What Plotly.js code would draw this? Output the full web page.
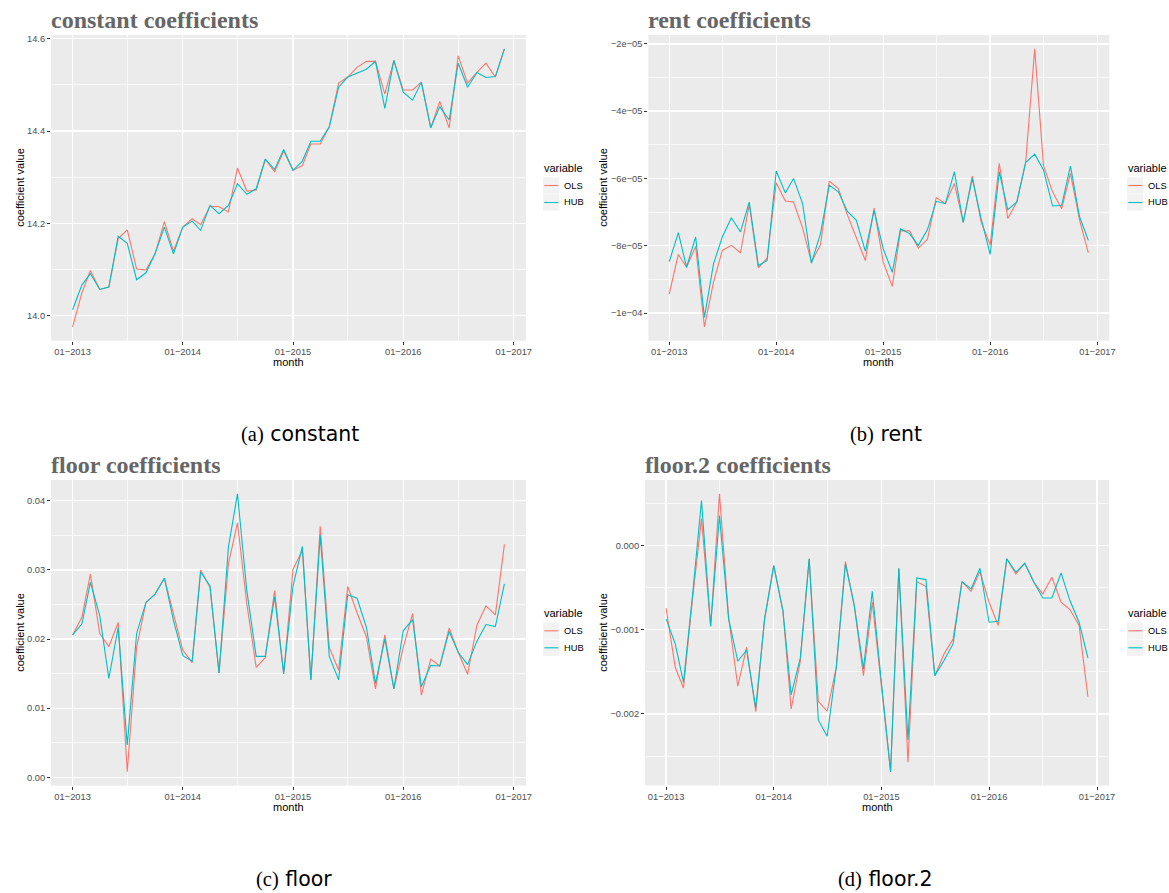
<!DOCTYPE html>
<html>
<head>
<meta charset="utf-8">
<script src="https://cdn.plot.ly/plotly-3.0.1.min.js"></script>
<style>html,body{margin:0;padding:0;background:#fff;}#chart{width:1169px;height:893px;}</style>
</head>
<body>
<div id="chart"></div>
<script>
// ---------------- DATA ----------------
const months = ["2013-01","2013-02","2013-03","2013-04","2013-05","2013-06","2013-07","2013-08","2013-09","2013-10","2013-11","2013-12",
  "2014-01","2014-02","2014-03","2014-04","2014-05","2014-06","2014-07","2014-08","2014-09","2014-10","2014-11","2014-12",
  "2015-01","2015-02","2015-03","2015-04","2015-05","2015-06","2015-07","2015-08","2015-09","2015-10","2015-11","2015-12",
  "2016-01","2016-02","2016-03","2016-04","2016-05","2016-06","2016-07","2016-08","2016-09","2016-10","2016-11","2016-12"];

const seriesNames = ["OLS", "HUB"];
const panelTitles = ["constant coefficients", "rent coefficients", "floor coefficients", "floor.2 coefficients"];
const captionLetters = ["(a)", "(b)", "(c)", "(d)"];
const captionNames = ["constant", "rent", "floor", "floor.2"];

const constOLS = [13.976,14.050,14.098,14.057,14.062,14.167,14.186,14.101,14.099,14.134,14.204,14.140,
  14.192,14.210,14.197,14.237,14.236,14.225,14.320,14.270,14.272,14.339,14.312,14.357,
  14.315,14.325,14.372,14.372,14.409,14.504,14.517,14.538,14.551,14.551,14.480,14.553,
  14.489,14.489,14.506,14.407,14.464,14.407,14.563,14.504,14.527,14.547,14.517,14.578];
const constHUB = [14.013,14.067,14.091,14.057,14.062,14.172,14.157,14.078,14.093,14.134,14.192,14.134,
  14.192,14.205,14.185,14.239,14.221,14.239,14.286,14.263,14.275,14.339,14.317,14.360,
  14.315,14.335,14.378,14.378,14.409,14.495,14.517,14.525,14.534,14.551,14.449,14.553,
  14.484,14.467,14.506,14.407,14.453,14.424,14.547,14.495,14.527,14.516,14.518,14.578];

const rentOLS = [-9.43e-5,-8.26e-5,-8.64e-5,-8.02e-5,-10.41e-5,-9.08e-5,-8.14e-5,-7.99e-5,-8.21e-5,-6.77e-5,-8.66e-5,-8.37e-5,
  -6.13e-5,-6.67e-5,-6.70e-5,-7.47e-5,-8.49e-5,-7.97e-5,-6.08e-5,-6.30e-5,-7.09e-5,-7.74e-5,-8.44e-5,-6.88e-5,
  -8.49e-5,-9.21e-5,-7.56e-5,-7.56e-5,-8.07e-5,-7.81e-5,-6.57e-5,-6.75e-5,-6.15e-5,-7.31e-5,-5.93e-5,-7.29e-5,
  -7.97e-5,-5.55e-5,-7.19e-5,-6.70e-5,-5.53e-5,-2.15e-5,-5.62e-5,-6.40e-5,-6.90e-5,-5.85e-5,-7.24e-5,-8.21e-5];
const rentHUB = [-8.47e-5,-7.61e-5,-8.64e-5,-7.74e-5,-10.13e-5,-8.54e-5,-7.74e-5,-7.17e-5,-7.59e-5,-6.70e-5,-8.59e-5,-8.44e-5,
  -5.78e-5,-6.43e-5,-6.00e-5,-6.75e-5,-8.52e-5,-7.64e-5,-6.20e-5,-6.40e-5,-6.98e-5,-7.24e-5,-8.16e-5,-6.95e-5,
  -8.09e-5,-8.79e-5,-7.50e-5,-7.64e-5,-7.99e-5,-7.52e-5,-6.68e-5,-6.75e-5,-5.80e-5,-7.31e-5,-6.00e-5,-7.19e-5,
  -8.26e-5,-5.80e-5,-6.93e-5,-6.70e-5,-5.53e-5,-5.28e-5,-5.75e-5,-6.82e-5,-6.80e-5,-5.63e-5,-7.14e-5,-7.84e-5];

const floorOLS = [0.0206,0.0232,0.0294,0.0208,0.0189,0.0224,0.0008,0.0188,0.0253,0.0265,0.0288,0.0237,
  0.0184,0.0166,0.0300,0.0275,0.0151,0.0309,0.0368,0.0251,0.0159,0.0173,0.0270,0.0150,
  0.0301,0.0328,0.0141,0.0363,0.0188,0.0155,0.0276,0.0238,0.0203,0.0128,0.0206,0.0128,
  0.0188,0.0237,0.0119,0.0171,0.0161,0.0216,0.0181,0.0149,0.0220,0.0248,0.0235,0.0337];
const floorHUB = [0.0206,0.0222,0.0282,0.0234,0.0143,0.0217,0.0047,0.0208,0.0253,0.0265,0.0288,0.0227,
  0.0176,0.0168,0.0297,0.0277,0.0151,0.0333,0.0410,0.0270,0.0175,0.0175,0.0261,0.0150,
  0.0277,0.0334,0.0141,0.0350,0.0175,0.0141,0.0264,0.0259,0.0217,0.0136,0.0200,0.0128,
  0.0212,0.0228,0.0131,0.0162,0.0161,0.0211,0.0181,0.0163,0.0197,0.0221,0.0218,0.0280];

const floor2OLS = [-0.745e-3,-1.446e-3,-1.691e-3,-0.620e-3,0.317e-3,-0.958e-3,0.614e-3,-0.851e-3,-1.671e-3,-1.208e-3,-1.972e-3,-0.871e-3,
  -0.238e-3,-0.772e-3,-1.941e-3,-1.374e-3,-0.158e-3,-1.850e-3,-1.968e-3,-1.446e-3,-0.190e-3,-0.713e-3,-1.545e-3,-0.673e-3,
  -1.670e-3,-2.685e-3,-0.269e-3,-2.574e-3,-0.428e-3,-0.487e-3,-1.545e-3,-1.287e-3,-1.109e-3,-0.428e-3,-0.543e-3,-0.309e-3,
  -0.673e-3,-0.950e-3,-0.158e-3,-0.337e-3,-0.210e-3,-0.436e-3,-0.574e-3,-0.376e-3,-0.673e-3,-0.760e-3,-0.950e-3,-1.794e-3];
const floor2HUB = [-0.871e-3,-1.168e-3,-1.624e-3,-0.580e-3,0.535e-3,-0.958e-3,0.356e-3,-0.871e-3,-1.374e-3,-1.240e-3,-1.929e-3,-0.871e-3,
  -0.238e-3,-0.772e-3,-1.774e-3,-1.335e-3,-0.158e-3,-2.071e-3,-2.265e-3,-1.446e-3,-0.218e-3,-0.713e-3,-1.465e-3,-0.543e-3,
  -1.630e-3,-2.685e-3,-0.269e-3,-2.309e-3,-0.384e-3,-0.404e-3,-1.545e-3,-1.366e-3,-1.168e-3,-0.428e-3,-0.515e-3,-0.269e-3,
  -0.911e-3,-0.899e-3,-0.158e-3,-0.317e-3,-0.210e-3,-0.436e-3,-0.622e-3,-0.622e-3,-0.325e-3,-0.653e-3,-0.911e-3,-1.335e-3];

const rentTickVals = [-1e-4, -8e-5, -6e-5, -4e-5, -2e-5];
const rentTickText = ["\u22121e\u221204", "\u22128e\u221205", "\u22126e\u221205", "\u22124e\u221205", "\u22122e\u221205"];

// ---------------- STYLE / LAYOUT ----------------
const W = 1169, H = 893;
const COLORS = ["#F8766D", "#00BFC4"];
const px = x => x / W;
const py = y => 1 - y / H;

const panels = [
  {ols: constOLS, hub: constHUB, box: [51, 526, 35, 340.7]},
  {ols: rentOLS, hub: rentHUB, box: [648.3, 1109.3, 35, 340.7]},
  {ols: floorOLS, hub: floorHUB, box: [51, 526, 480, 785.7]},
  {ols: floor2OLS, hub: floor2HUB, box: [645, 1109, 480, 785.5]}
];

function fmtDate(ms) { return new Date(ms).toISOString().replace('T', ' ').replace('Z', ''); }
const t0 = Date.parse(months[0] + '-01'), t1 = Date.parse(months[months.length - 1] + '-01');
const xRange = [fmtDate(t0 - 0.05 * (t1 - t0)), fmtDate(t1 + 0.05 * (t1 - t0))];

function yRange(a, b) {
  const all = a.concat(b);
  const lo = Math.min(...all), hi = Math.max(...all), d = hi - lo;
  return [lo - 0.05 * d, hi + 0.05 * d];
}

const tickFont = {family: "Liberation Sans, Arial, sans-serif", size: 9.3, color: "#4D4D4D"};
const data = [];
const layout = {
  width: W, height: H, margin: {l: 0, r: 0, t: 0, b: 0},
  paper_bgcolor: "#ffffff", plot_bgcolor: "#EBEBEB", showlegend: false,
  font: {family: "Liberation Sans, Arial, sans-serif"},
  annotations: [], shapes: []
};

const yAxisOpts = [
  {dtick: 0.2, tick0: 14, tickformat: ".1f", minor: {dtick: 0.1, tick0: 14}},
  {tickmode: "array", tickvals: rentTickVals, ticktext: rentTickText, minor: {tickmode: "linear", tick0: 0, dtick: 1e-5}},
  {dtick: 0.01, tick0: 0, tickformat: ".2f", minor: {dtick: 0.005, tick0: 0}},
  {dtick: 0.001, tick0: 0, tickformat: ".3f", minor: {dtick: 0.0005, tick0: 0}}
];

const capCenters = [[300, 434], [886, 434], [294, 879], [885, 879]];
const legendPos = [[543, 168], [1127, 168], [543, 613.3], [1127, 613.3]];

panels.forEach((p, i) => {
  const n = i === 0 ? "" : String(i + 1);
  const [x0, x1, y0, y1] = p.box;
  [p.ols, p.hub].forEach((vals, k) => {
    data.push({
      type: "scatter", mode: "lines", x: months, y: vals, name: seriesNames[k],
      xaxis: "x" + n, yaxis: "y" + n,
      line: {color: COLORS[k], width: 1.1}, hoverinfo: "x+y+name"
    });
  });
  layout["xaxis" + n] = {
    type: "date", domain: [px(x0), px(x1)], anchor: "y" + n, range: xRange,
    tick0: "2013-01-01", dtick: "M12", tickformat: "%m\u2212%Y",
    ticks: "outside", ticklen: 3, tickwidth: 1, tickcolor: "#333333", ticklabelstandoff: -1,
    tickfont: tickFont, showgrid: true, gridcolor: "#FFFFFF", gridwidth: 1.35,
    zeroline: false, showline: false,
    minor: {dtick: "M6", tick0: "2013-01-01", showgrid: true, gridcolor: "#FFFFFF", gridwidth: 0.7, ticks: ""}
  };
  const yo = yAxisOpts[i];
  const ya = Object.assign({
    domain: [py(y1), py(y0)], anchor: "x" + n, range: yRange(p.ols, p.hub),
    ticks: "outside", ticklen: 3, tickwidth: 1, tickcolor: "#333333",
    tickfont: tickFont, showgrid: true, gridcolor: "#FFFFFF", gridwidth: 1.35,
    zeroline: false, showline: false
  }, yo);
  ya.minor = Object.assign({showgrid: true, gridcolor: "#FFFFFF", gridwidth: 0.7, ticks: ""}, yo.minor);
  layout["yaxis" + n] = ya;

  // panel title
  layout.annotations.push({
    text: panelTitles[i], xref: "paper", yref: "paper", x: px(x0 - 2), y: py(y0 - 15),
    xanchor: "left", yanchor: "middle", showarrow: false,
    font: {family: "Liberation Serif, Times New Roman, serif", size: 24, color: "#666666", weight: "bold"}
  });
  // axis titles
  layout.annotations.push({
    text: "month", xref: "paper", yref: "paper", x: px((x0 + x1) / 2), y: py(y1 + 21.5),
    xanchor: "center", yanchor: "middle", showarrow: false,
    font: {family: "Liberation Sans, Arial, sans-serif", size: 11, color: "#000000"}
  });
  layout.annotations.push({
    text: "coefficient value", xref: "paper", yref: "paper", x: px(i % 2 === 0 ? 20 : 603), y: py((y0 + y1) / 2),
    xanchor: "center", yanchor: "middle", showarrow: false, textangle: -90,
    font: {family: "Liberation Sans, Arial, sans-serif", size: 11, color: "#000000"}
  });
  // caption
  layout.annotations.push({
    text: '<span style="font-family:Liberation Serif, serif">' + captionLetters[i] + '</span> ' + captionNames[i],
    xref: "paper", yref: "paper", x: px(capCenters[i][0]), y: py(capCenters[i][1]),
    xanchor: "center", yanchor: "middle", showarrow: false,
    font: {family: "DejaVu Sans, sans-serif", size: 20.5, color: "#000000"}
  });
  // legend (ggplot style)
  const [lx, ly] = legendPos[i];
  layout.annotations.push({
    text: "variable", xref: "paper", yref: "paper", x: px(lx - 1), y: py(ly),
    xanchor: "left", yanchor: "middle", showarrow: false,
    font: {family: "Liberation Sans, Arial, sans-serif", size: 11, color: "#000000"}
  });
  seriesNames.forEach((nm, k) => {
    const cy = ly + 17.5 + k * 17;
    layout.shapes.push({type: "rect", xref: "paper", yref: "paper",
      x0: px(lx), x1: px(lx + 16.5), y0: py(cy + 8.2), y1: py(cy - 8.2),
      fillcolor: "#F2F2F2", line: {width: 0}, layer: "above"});
    layout.shapes.push({type: "line", xref: "paper", yref: "paper",
      x0: px(lx + 1.2), x1: px(lx + 15.3), y0: py(cy), y1: py(cy),
      line: {color: COLORS[k], width: 1.1}, layer: "above"});
    layout.annotations.push({
      text: nm, xref: "paper", yref: "paper", x: px(lx + 19), y: py(cy),
      xanchor: "left", yanchor: "middle", showarrow: false,
      font: {family: "Liberation Sans, Arial, sans-serif", size: 9.3, color: "#000000"}
    });
  });
});

Plotly.newPlot("chart", data, layout, {displayModeBar: false, staticPlot: true});
</script>
</body>
</html>
